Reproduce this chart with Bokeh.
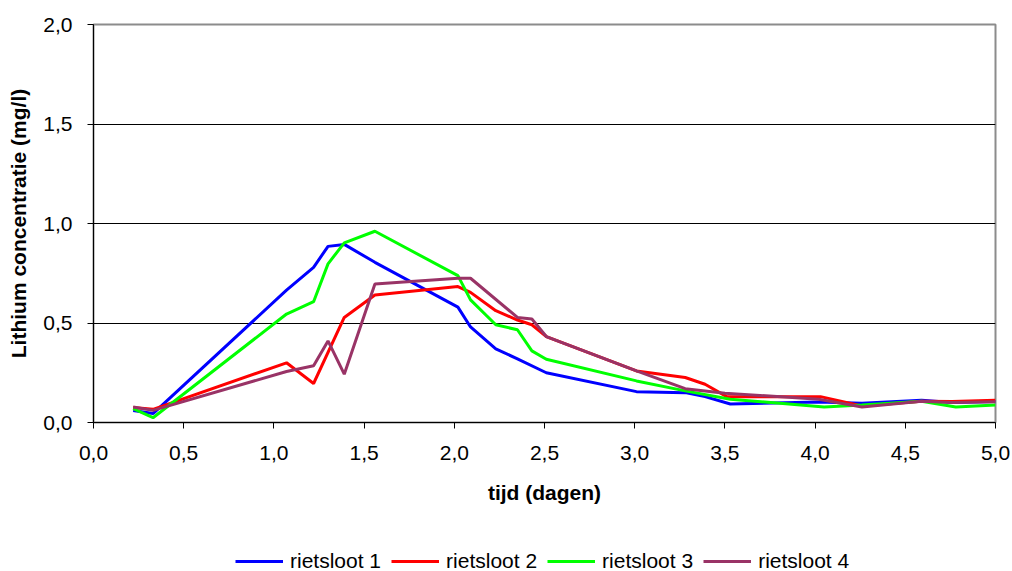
from bokeh.plotting import figure
from bokeh.layouts import column
from bokeh.models import Range1d, FixedTicker, Legend, LegendItem
from bokeh.embed import file_html
from bokeh.resources import INLINE

# ---- data ----
x1 = [0.22, 0.33, 1.07, 1.22, 1.30, 1.39, 1.56, 2.02, 2.09, 2.23, 2.35, 2.51, 3.01, 3.28, 3.39, 3.53, 4.02, 4.26, 4.59, 4.76, 5.0]
y1 = [0.06, 0.045, 0.665, 0.78, 0.885, 0.895, 0.805, 0.58, 0.48, 0.37, 0.32, 0.25, 0.155, 0.15, 0.13, 0.093, 0.103, 0.097, 0.112, 0.10, 0.105]

x2 = [0.22, 0.33, 1.07, 1.22, 1.39, 1.56, 2.02, 2.09, 2.23, 2.35, 2.43, 2.51, 3.01, 3.28, 3.39, 3.51, 4.03, 4.26, 4.59, 4.76, 5.0]
y2 = [0.075, 0.066, 0.30, 0.196, 0.528, 0.641, 0.683, 0.654, 0.562, 0.515, 0.491, 0.432, 0.259, 0.226, 0.192, 0.13, 0.13, 0.083, 0.107, 0.105, 0.112]

x3 = [0.22, 0.33, 1.07, 1.22, 1.30, 1.39, 1.56, 2.02, 2.09, 2.23, 2.35, 2.43, 2.51, 3.01, 3.28, 3.53, 4.05, 4.26, 4.59, 4.78, 5.0]
y3 = [0.07, 0.024, 0.545, 0.607, 0.797, 0.903, 0.961, 0.738, 0.616, 0.491, 0.466, 0.36, 0.318, 0.209, 0.159, 0.117, 0.078, 0.088, 0.107, 0.078, 0.088]

x4 = [0.22, 0.33, 1.07, 1.22, 1.30, 1.39, 1.56, 2.02, 2.09, 2.35, 2.43, 2.51, 3.01, 3.28, 3.50, 4.02, 4.26, 4.59, 4.76, 5.0]
y4 = [0.078, 0.061, 0.256, 0.285, 0.41, 0.243, 0.696, 0.725, 0.725, 0.528, 0.52, 0.432, 0.259, 0.17, 0.147, 0.117, 0.078, 0.107, 0.10, 0.104]

series_names = ["rietsloot 1", "rietsloot 2", "rietsloot 3", "rietsloot 4"]
series_colors = ["#0000FF", "#FF0000", "#00FF00", "#993366"]

x_ticks = [0.0, 0.5, 1.0, 1.5, 2.0, 2.5, 3.0, 3.5, 4.0, 4.5, 5.0]
y_ticks = [0.0, 0.5, 1.0, 1.5, 2.0]
x_tick_labels = ["0,0", "0,5", "1,0", "1,5", "2,0", "2,5", "3,0", "3,5", "4,0", "4,5", "5,0"]
y_tick_labels = ["0,0", "0,5", "1,0", "1,5", "2,0"]

FONT = "Liberation Sans"
FS = "21px"

p = figure(width=1012, height=520, output_backend="svg", toolbar_location=None,
           x_range=Range1d(0, 5), y_range=Range1d(0, 2),
           min_border_left=93, min_border_right=17, min_border_top=24, min_border_bottom=98)
p.background_fill_color = "white"
p.border_fill_color = "white"
p.outline_line_color = "#8c8c8c"
p.outline_line_width = 2

# grid
p.xgrid.visible = False
p.ygrid.ticker = FixedTicker(ticks=[0.5, 1.0, 1.5])
p.ygrid.grid_line_color = "black"
p.ygrid.grid_line_width = 1

# axes
for ax, ticks, labels in ((p.xaxis[0], x_ticks, x_tick_labels), (p.yaxis[0], y_ticks, y_tick_labels)):
    ax.ticker = FixedTicker(ticks=ticks)
    ax.major_label_overrides = {t: l for t, l in zip(ticks, labels)}
    ax.minor_tick_line_color = None
    ax.major_tick_in = 0
    ax.major_tick_out = 6
    ax.major_tick_line_color = "black"
    ax.axis_line_color = "black"
    ax.axis_line_width = 1
    ax.major_label_text_font = FONT
    ax.major_label_text_font_size = FS
    ax.major_label_text_color = "black"
    ax.axis_label_text_font = FONT
    ax.axis_label_text_font_size = FS
    ax.axis_label_text_font_style = "bold"
    ax.axis_label_text_color = "black"

p.xaxis.major_label_standoff = 17
p.yaxis.major_label_standoff = 15
p.xaxis.axis_label = "tijd (dagen)"
p.yaxis.axis_label = "Lithium concentratie (mg/l)"
p.xaxis.axis_label_standoff = 18
p.yaxis.axis_label_standoff = 10

all_x = [x1, x2, x3, x4]
all_y = [y1, y2, y3, y4]
for xs, ys, col in zip(all_x, all_y, series_colors):
    p.line(xs, ys, line_color=col, line_width=3)

# legend strip below the chart (same series, drawn out of view so only the legend shows)
pl = figure(width=1012, height=51, output_backend="svg", toolbar_location=None,
            x_range=Range1d(0, 5), y_range=Range1d(10, 11),
            x_axis_location=None, y_axis_location=None,
            min_border_left=0, min_border_right=0, min_border_top=0, min_border_bottom=0)
pl.grid.visible = False
pl.outline_line_color = None
pl.background_fill_color = "white"
pl.border_fill_color = "white"

items = []
for xs, ys, name, col in zip(all_x, all_y, series_names, series_colors):
    r = pl.line(xs, ys, line_color=col, line_width=3)
    items.append(LegendItem(label=name, renderers=[r]))

legend = Legend(items=items, orientation="horizontal", location=(142, -2),
                label_text_font=FONT, label_text_font_size=FS, label_text_color="black",
                glyph_width=48, glyph_height=20, label_standoff=7, spacing=10,
                padding=0, margin=0, border_line_color=None, background_fill_alpha=0)
pl.add_layout(legend, "center")

layout = column(p, pl, spacing=0)
open("out.html", "w").write(file_html(layout, INLINE))
